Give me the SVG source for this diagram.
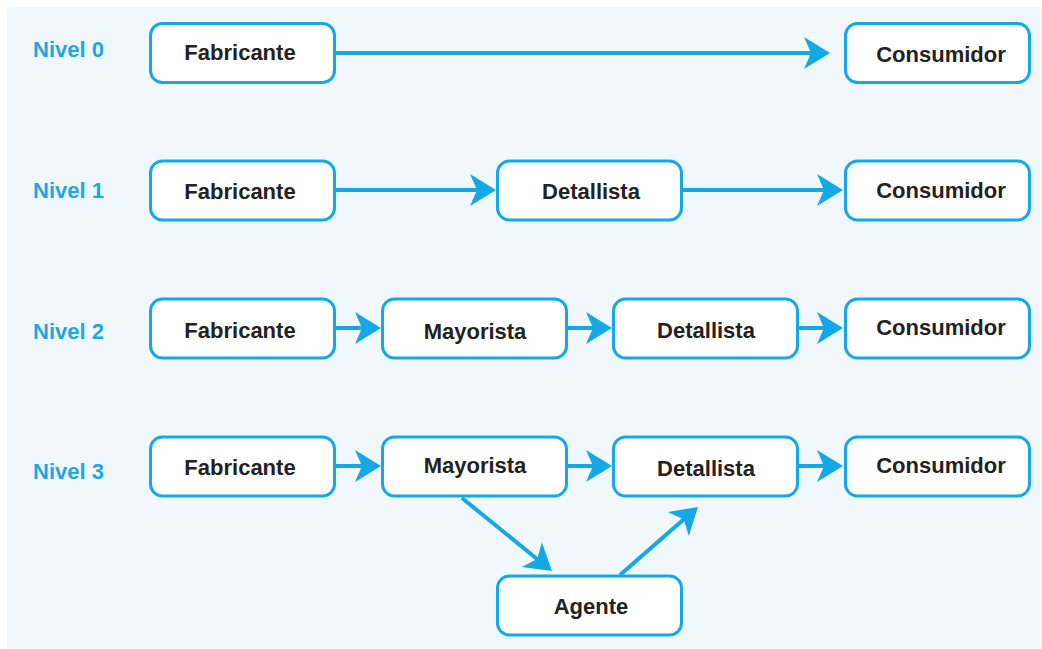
<svg xmlns="http://www.w3.org/2000/svg" width="1042" height="649" viewBox="0 0 1042 649">
  <style>
    .box { fill: #ffffff; stroke: #14a9e6; stroke-width: 3; }
    .lbl { font-family: "Liberation Sans", Arial, sans-serif; font-weight: bold; font-size: 22px; fill: #222222; text-anchor: middle; }
    .lvl { font-family: "Liberation Sans", Arial, sans-serif; font-weight: bold; font-size: 22px; fill: #1ea7e4; }
    .link { fill: none; stroke: #14a9e6; stroke-width: 4; marker-end: url(#arrow); }
  </style>
  <defs>
    <!-- barbed arrowhead; the line stops inside the head, the tip sits 18px beyond -->
    <marker id="arrow" markerUnits="userSpaceOnUse" markerWidth="28" markerHeight="32" refX="8" refY="16" orient="auto" overflow="visible">
      <path d="M26,16 L0,0 L7,16 L0,32 Z" fill="#14a9e6"/>
    </marker>
  </defs>

  <rect x="7" y="7" width="1035" height="642" fill="#f1f8fd"/>

  <!-- level labels -->
  <g id="levels">
    <text class="lvl" x="33" y="57">Nivel 0</text>
    <text class="lvl" x="33" y="198">Nivel 1</text>
    <text class="lvl" x="33" y="339">Nivel 2</text>
    <text class="lvl" x="33" y="479">Nivel 3</text>
  </g>

  <!-- connectors -->
  <g id="connectors">
    <line class="link" x1="336" y1="53" x2="812" y2="53"/>
    <line class="link" x1="336" y1="190" x2="478" y2="190"/>
    <line class="link" x1="683" y1="190" x2="825" y2="190"/>
    <line class="link" x1="336" y1="328" x2="363" y2="328"/>
    <line class="link" x1="568" y1="328" x2="594" y2="328"/>
    <line class="link" x1="799" y1="328" x2="825" y2="328"/>
    <line class="link" x1="336" y1="466" x2="363" y2="466"/>
    <line class="link" x1="568" y1="466" x2="594" y2="466"/>
    <line class="link" x1="799" y1="466" x2="825" y2="466"/>
    <line class="link" x1="462" y1="498" x2="538" y2="559.7"/>
    <line class="link" x1="620" y1="575" x2="684.4" y2="518.8"/>
  </g>

  <!-- level 0 -->
  <g id="n0-fabricante"><rect class="box" x="150.5" y="23.5" width="184" height="59" rx="12"/><text class="lbl" x="240" y="60">Fabricante</text></g>
  <g id="n0-consumidor"><rect class="box" x="845.5" y="23.5" width="184" height="59" rx="12"/><text class="lbl" x="941" y="62">Consumidor</text></g>

  <!-- level 1 -->
  <g id="n1-fabricante"><rect class="box" x="150.5" y="161" width="184" height="59" rx="12"/><text class="lbl" x="240" y="199">Fabricante</text></g>
  <g id="n1-detallista"><rect class="box" x="497.5" y="161" width="184" height="59" rx="12"/><text class="lbl" x="591" y="199">Detallista</text></g>
  <g id="n1-consumidor"><rect class="box" x="845.5" y="161" width="184" height="59" rx="12"/><text class="lbl" x="941" y="198">Consumidor</text></g>

  <!-- level 2 -->
  <g id="n2-fabricante"><rect class="box" x="150.5" y="299" width="184" height="59" rx="12"/><text class="lbl" x="240" y="338">Fabricante</text></g>
  <g id="n2-mayorista"><rect class="box" x="382.5" y="299" width="184" height="59" rx="12"/><text class="lbl" x="475" y="339">Mayorista</text></g>
  <g id="n2-detallista"><rect class="box" x="613.5" y="299" width="184" height="59" rx="12"/><text class="lbl" x="706" y="338">Detallista</text></g>
  <g id="n2-consumidor"><rect class="box" x="845.5" y="299" width="184" height="59" rx="12"/><text class="lbl" x="941" y="335">Consumidor</text></g>

  <!-- level 3 -->
  <g id="n3-fabricante"><rect class="box" x="150.5" y="437" width="184" height="59" rx="12"/><text class="lbl" x="240" y="475">Fabricante</text></g>
  <g id="n3-mayorista"><rect class="box" x="382.5" y="437" width="184" height="59" rx="12"/><text class="lbl" x="475" y="473">Mayorista</text></g>
  <g id="n3-detallista"><rect class="box" x="613.5" y="437" width="184" height="59" rx="12"/><text class="lbl" x="706" y="476">Detallista</text></g>
  <g id="n3-consumidor"><rect class="box" x="845.5" y="437" width="184" height="59" rx="12"/><text class="lbl" x="941" y="473">Consumidor</text></g>
  <g id="n3-agente"><rect class="box" x="497.5" y="576" width="184" height="59" rx="12"/><text class="lbl" x="591" y="614">Agente</text></g>
</svg>
